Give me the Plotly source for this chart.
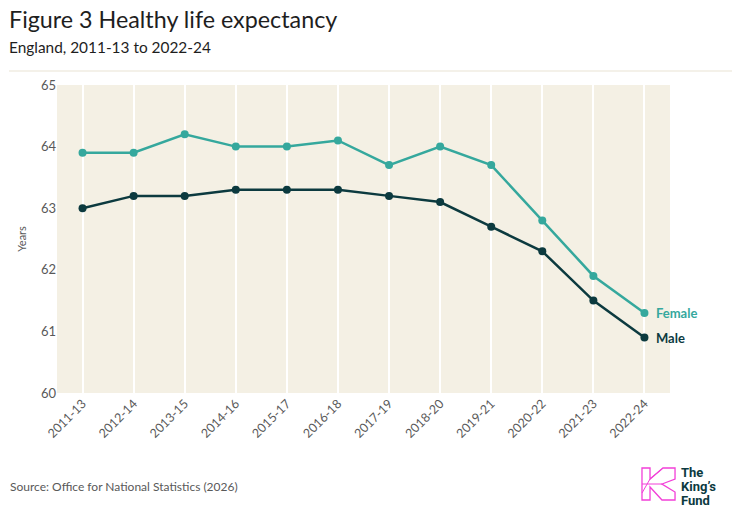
import plotly.graph_objects as go

periods = ["2011-13", "2012-14", "2013-15", "2014-16", "2015-17", "2016-18",
           "2017-19", "2018-20", "2019-21", "2020-22", "2021-23", "2022-24"]
female = [63.9, 63.9, 64.2, 64.0, 64.0, 64.1, 63.7, 64.0, 63.7, 62.8, 61.9, 61.3]
male = [63.0, 63.2, 63.2, 63.3, 63.3, 63.3, 63.2, 63.1, 62.7, 62.3, 61.5, 60.9]
y_ticks = [60, 61, 62, 63, 64, 65]

TEAL = "#35a89d"
DARK = "#0c3a3f"
BG = "#f4f0e4"
GREY = "#595959"
PINK = "#f23fd8"

W, H = 740, 520
L, R, T, B = 57, 70, 85, 127
PW, PH = W - L - R, H - T - B

def px(x):
    return (x - L) / PW

def py(y):
    return (H - B - y) / PH

fig = go.Figure()
fig.add_trace(go.Scatter(x=list(range(len(periods))), y=female, mode="lines+markers",
                         line=dict(color=TEAL, width=2.5), marker=dict(size=8, color=TEAL),
                         name="Female", hoverinfo="skip"))
fig.add_trace(go.Scatter(x=list(range(len(periods))), y=male, mode="lines+markers",
                         line=dict(color=DARK, width=2.5), marker=dict(size=8, color=DARK),
                         name="Male", hoverinfo="skip"))

annotations = [
    dict(text="Figure 3 Healthy life expectancy", x=px(7), y=py(19), xref="paper", yref="paper",
         xanchor="left", yanchor="middle", showarrow=False,
         font=dict(family="Lato", size=23.3, color="#1e1e1e")),
    dict(text="England, 2011-13 to 2022-24", x=px(7), y=py(47), xref="paper", yref="paper",
         xanchor="left", yanchor="middle", showarrow=False,
         font=dict(family="Lato", size=15.4, color="#1e1e1e")),
    dict(text="Source: Office for National Statistics (2026)", x=px(8), y=py(486), xref="paper", yref="paper",
         xanchor="left", yanchor="middle", showarrow=False,
         font=dict(family="Lato", size=12, color=GREY)),
    dict(text="<b>Female</b>", x=len(periods) - 1, y=female[-1], xref="x", yref="y",
         xanchor="left", yanchor="middle", xshift=10, showarrow=False,
         font=dict(family="Lato", size=13, color=TEAL)),
    dict(text="<b>Male</b>", x=len(periods) - 1, y=male[-1], xref="x", yref="y",
         xanchor="left", yanchor="middle", xshift=10, showarrow=False,
         font=dict(family="Lato", size=13, color=DARK)),
]
for i, word in enumerate(["The", "King’s", "Fund"]):
    annotations.append(dict(text="<b>" + word + "</b>", x=px(679), y=py(472 + i * 14),
                            xref="paper", yref="paper", xanchor="left", yanchor="middle",
                            showarrow=False,
                            font=dict(family="Roboto", size=13, color=DARK)))

def path(pts):
    s = "M " + " L ".join(f"{px(a):.4f},{py(b):.4f}" for a, b in pts) + " Z"
    return s

shapes = [
    dict(type="line", xref="paper", yref="paper", x0=px(9), x1=px(732), y0=py(71), y1=py(71),
         line=dict(color="#f1ede2", width=1.5)),
    dict(type="path", xref="paper", yref="paper",
         path=path([(642, 468), (650, 468), (650, 479), (663, 468), (675, 468), (675, 479),
                    (662, 484), (675, 492), (675, 500), (662, 500), (650, 487), (650, 500), (642, 500)]),
         line=dict(color=PINK, width=1.3)),
    dict(type="line", xref="paper", yref="paper", x0=px(642), x1=px(662), y0=py(484), y1=py(484),
         line=dict(color=PINK, width=1.0)),
    dict(type="line", xref="paper", yref="paper", x0=px(650), x1=px(663), y0=py(479), y1=py(468),
         line=dict(color=PINK, width=1.0)),
    dict(type="line", xref="paper", yref="paper", x0=px(642), x1=px(650), y0=py(493), y1=py(479),
         line=dict(color=PINK, width=1.0)),
]

fig.update_layout(
    width=W, height=H, margin=dict(l=L, r=R, t=T, b=B),
    paper_bgcolor="white", plot_bgcolor=BG, showlegend=False,
    font=dict(family="Lato", color=GREY),
    annotations=annotations, shapes=shapes,
    xaxis=dict(tickmode="array", tickvals=list(range(len(periods))), ticktext=periods,
               range=[-0.5, len(periods) - 0.5], tickangle=-45, showgrid=True,
               gridcolor="white", gridwidth=2, zeroline=False, showline=False,
               ticks="", tickfont=dict(family="Lato", size=12.5, color=GREY), fixedrange=True),
    yaxis=dict(range=[60, 65], tickvals=y_ticks, showgrid=False, zeroline=False,
               showline=False, ticks="", tickfont=dict(family="Lato", size=13, color=GREY),
               title=dict(text="Years", font=dict(family="Lato", size=11, color=GREY), standoff=12),
               fixedrange=True),
)

fig.write_html("out.html", config={"displayModeBar": False})
